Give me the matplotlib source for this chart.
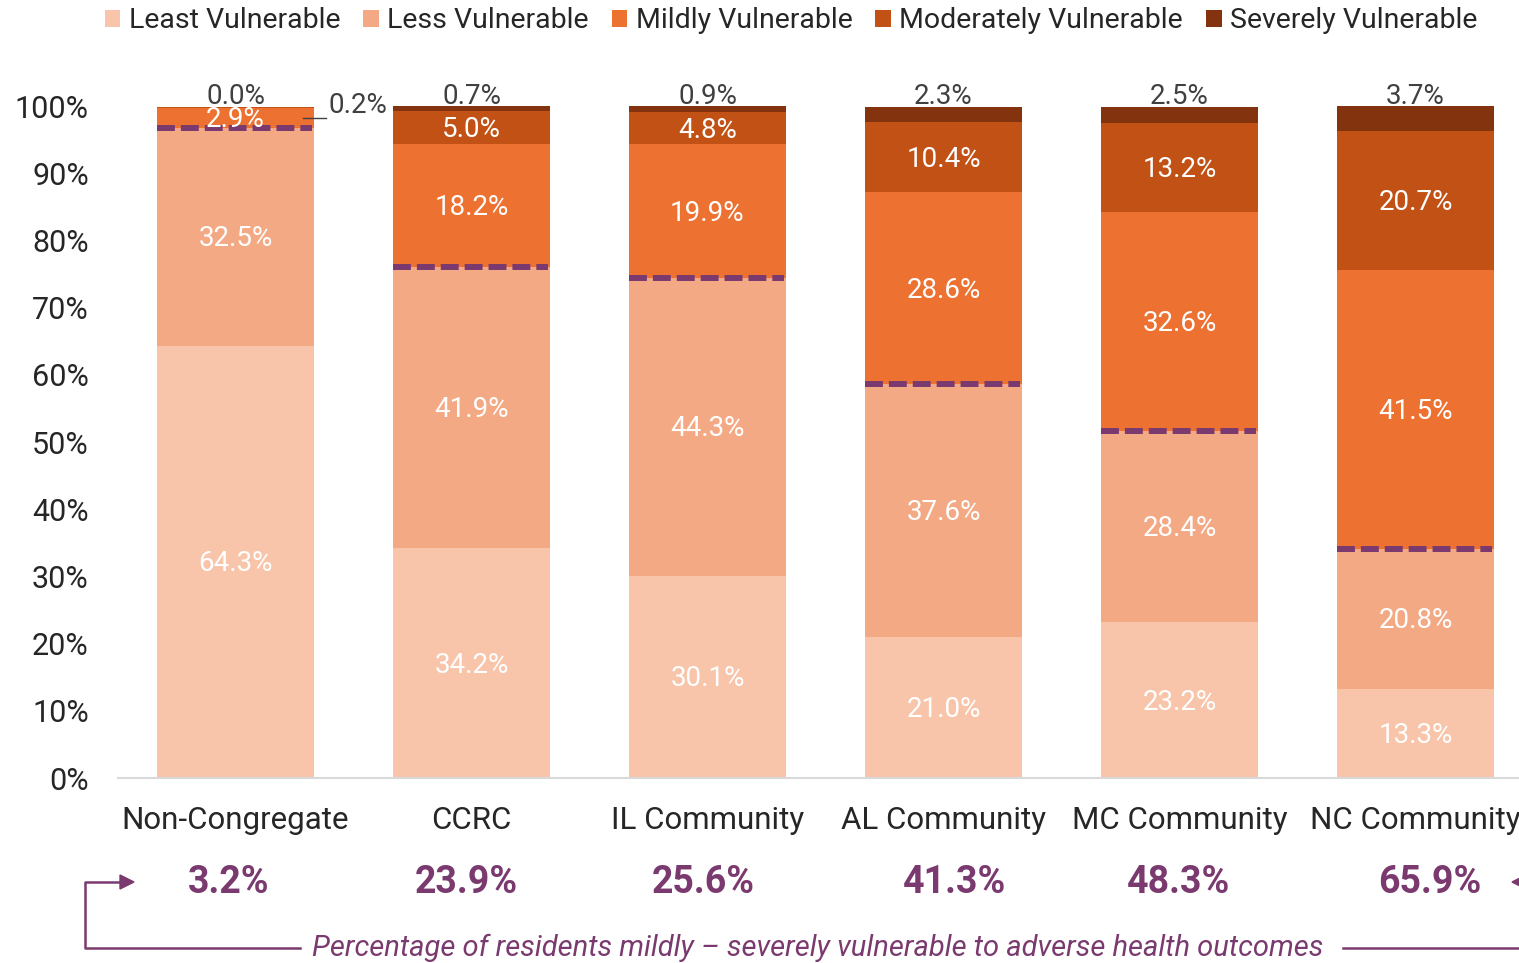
import matplotlib.pyplot as plt
from matplotlib.patches import Patch
from matplotlib.lines import Line2D
import numpy as np

plt.rcParams['font.family'] = ['Roboto', 'DejaVu Sans']

categories = ['Non-Congregate', 'CCRC', 'IL Community', 'AL Community', 'MC Community', 'NC Community']
least = [64.3, 34.2, 30.1, 21.0, 23.2, 13.3]
less = [32.5, 41.9, 44.3, 37.6, 28.4, 20.8]
mild = [2.9, 18.2, 19.9, 28.6, 32.6, 41.5]
moderate = [0.2, 5.0, 4.8, 10.4, 13.2, 20.7]
severe = [0.0, 0.7, 0.9, 2.3, 2.5, 3.7]
mild_to_severe = ['3.2%', '23.9%', '25.6%', '41.3%', '48.3%', '65.9%']

series_names = ['Least Vulnerable', 'Less Vulnerable', 'Mildly Vulnerable',
                'Moderately Vulnerable', 'Severely Vulnerable']
colors = ['#F8C5AA', '#F4A985', '#ED7131', '#C15114', '#83340F']
purple = '#7A3A6F'

fig = plt.figure(figsize=(15.19, 9.63), dpi=100)
ax = fig.add_axes([118 / 1519, 185 / 963, 1 - 118 / 1519, 672 / 963])

x = np.arange(len(categories))
w = 0.665
series = [least, less, mild, moderate, severe]
bottom = np.zeros(len(categories))
for vals, col in zip(series, colors):
    ax.bar(x, vals, w, bottom=bottom, color=col, edgecolor='none')
    bottom += np.array(vals)

# labels inside the segments
bottom = np.zeros(len(categories))
for k, vals in enumerate(series):
    for i, v in enumerate(vals):
        if k == 4:
            ax.text(x[i], 99.4, f'{v:.1f}%', ha='center', va='bottom',
                    fontsize=20, color='#404040')
        elif k == 3 and i == 0:
            ax.text(x[i] + 0.52, bottom[i] + v / 2 + 0.3, f'{v:.1f}%', ha='center',
                    va='center', fontsize=20, color='#404040')
            ax.plot([x[i] + 0.285, x[i] + 0.385], [98.2, 98.2], color='#404040',
                    lw=1, clip_on=False)
        else:
            ax.text(x[i], bottom[i] + v / 2 - 0.3, f'{v:.1f}%', ha='center', va='center',
                    fontsize=20, color='white')
    bottom += np.array(vals)

# dashed line between less and mildly vulnerable
for i in range(len(categories)):
    y = least[i] + less[i]
    ax.plot([x[i] - w / 2, x[i] + w / 2 - 0.01], [y, y], color=purple,
            lw=4.3, dashes=(3.0, 1.0), solid_capstyle='butt', dash_capstyle='butt')

ax.set_xlim((118 - 235.5) / 236, (1519 - 235.5) / 236)
ax.set_ylim(0, 100)
ax.set_yticks(np.arange(0, 101, 10))
ax.set_yticklabels([f'{t}%' for t in range(0, 101, 10)], fontsize=22, color='#262626')
ax.set_xticks(x)
ax.set_xticklabels(categories, fontsize=22.5, color='#262626')
ax.tick_params(axis='y', length=0, pad=21)
ax.tick_params(axis='x', length=0, pad=20)
for s in ['top', 'right', 'left']:
    ax.spines[s].set_visible(False)
ax.spines['bottom'].set_color('#D9D9D9')
ax.spines['bottom'].set_linewidth(1.5)

# bold summary numbers
offsets = [-0.03, -0.02, -0.02, 0.045, -0.005, 0.06]
for i, s in enumerate(mild_to_severe):
    ax.text(x[i] + offsets[i], -0.156, s, transform=ax.get_xaxis_transform(),
            ha='center', va='center', fontsize=27, fontweight='bold', color=purple)

fig.text(818 / 1519, 1 - 948 / 963,
         'Percentage of residents mildly \u2013 severely vulnerable to adverse health outcomes',
         ha='center', va='center', fontsize=21, style='italic', color=purple)

def line(xs, ys):
    fig.add_artist(Line2D([a / 1519 for a in xs], [1 - b / 963 for b in ys],
                          transform=fig.transFigure, color=purple, lw=1.8))

line([300, 85, 85, 120], [948, 948, 882, 882])
line([1343, 1530], [948, 948])
fig.add_artist(plt.Polygon([[120 / 1519, 1 - 875 / 963], [134 / 1519, 1 - 882 / 963],
                            [120 / 1519, 1 - 889 / 963]], closed=True,
                           transform=fig.transFigure, color=purple))
fig.add_artist(plt.Polygon([[1526 / 1519, 1 - 875 / 963], [1512 / 1519, 1 - 882 / 963],
                            [1526 / 1519, 1 - 889 / 963]], closed=True,
                           transform=fig.transFigure, color=purple))

handles = [Patch(facecolor=c, edgecolor='none') for c in colors]
fig.legend(handles, series_names, loc='center', bbox_to_anchor=(791 / 1519, 1 - 21 / 963),
           ncol=5, frameon=False, fontsize=20.5, handlelength=0.55, handleheight=0.55,
           handletextpad=0.3, columnspacing=0.8, labelcolor='#262626')

fig.savefig('out.png', dpi=100)
